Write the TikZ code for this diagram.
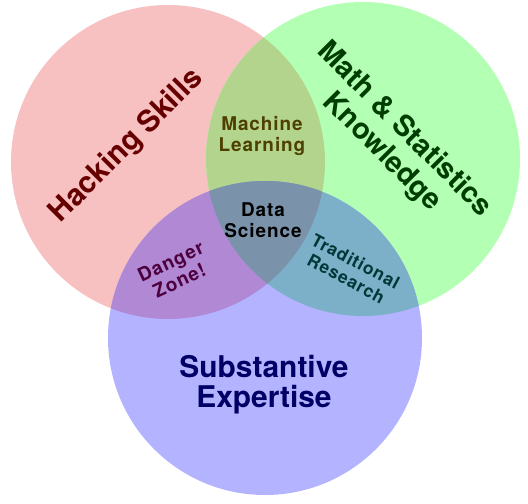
\documentclass[tikz,border=0pt]{standalone}
\usepackage{fontspec}
\setmainfont{TeX Gyre Heros}
\definecolor{hackfill}{HTML}{F8C1C1}
\definecolor{mathfill}{HTML}{B3FFB3}
\definecolor{subfill}{HTML}{B3B3FF}
\definecolor{mlfill}{HTML}{B3D48C}
\definecolor{dangerfill}{HTML}{B088D4}
\definecolor{tradfill}{HTML}{7BB0C8}
\definecolor{dsfill}{HTML}{7A92AA}
\definecolor{hacktext}{HTML}{660000}
\definecolor{mathtext}{HTML}{003D00}
\definecolor{subtext}{HTML}{000066}
\definecolor{mltext}{HTML}{4D4000}
\definecolor{dangertext}{HTML}{4D003D}
\definecolor{tradtext}{HTML}{003838}
\tikzset{
  label/.style={font=\bfseries, align=center, inner sep=0pt},
  big/.style={label, font=\bfseries\fontsize{30}{30}\selectfont},
  small/.style={label, font=\bfseries\addfontfeature{LetterSpace=5}\fontsize{19}{21}\selectfont}
}

\begin{document}
\begin{tikzpicture}[x=1bp, y=-1bp]
\newcommand\HackCircle{(168,162) circle (157bp)}
\newcommand\MathCircle{(363,159) circle (157bp)}
\newcommand\SubCircle{(265,338) circle (157bp)}
\useasboundingbox (0,0) rectangle (528,504);
\fill[hackfill] \HackCircle;
\fill[mathfill] \MathCircle;
\fill[subfill] \SubCircle;
\begin{scope}
  \clip \HackCircle;
  \fill[mlfill] \MathCircle;
  \fill[dangerfill] \SubCircle;
\end{scope}
\begin{scope}
  \clip \MathCircle;
  \fill[tradfill] \SubCircle;
  \clip \HackCircle;
  \fill[dsfill] \SubCircle;
\end{scope}
\node[big, hacktext, rotate=45] (hacking) at (127,146) {Hacking Skills};
\node[big, mathtext, rotate=-45, font=\bfseries\fontsize{29}{32}\selectfont] (math) at (393,141) {Math \& Statistics\\Knowledge};
\node[big, subtext] (substantive) at (264,385) {Substantive\\Expertise};
\node[small] (datasci) at (263,220) {Data\\Science};
\node[small, mltext] (machine) at (262,136) {Machine\\Learning};
\node[small, dangertext, rotate=25] (danger) at (175,271) {Danger\\Zone!};
\node[small, tradtext, rotate=-28, font=\bfseries\addfontfeature{LetterSpace=5}\fontsize{17.5}{20}\selectfont] (traditional) at (351,270) {Traditional\\Research};
\end{tikzpicture}
\end{document}
